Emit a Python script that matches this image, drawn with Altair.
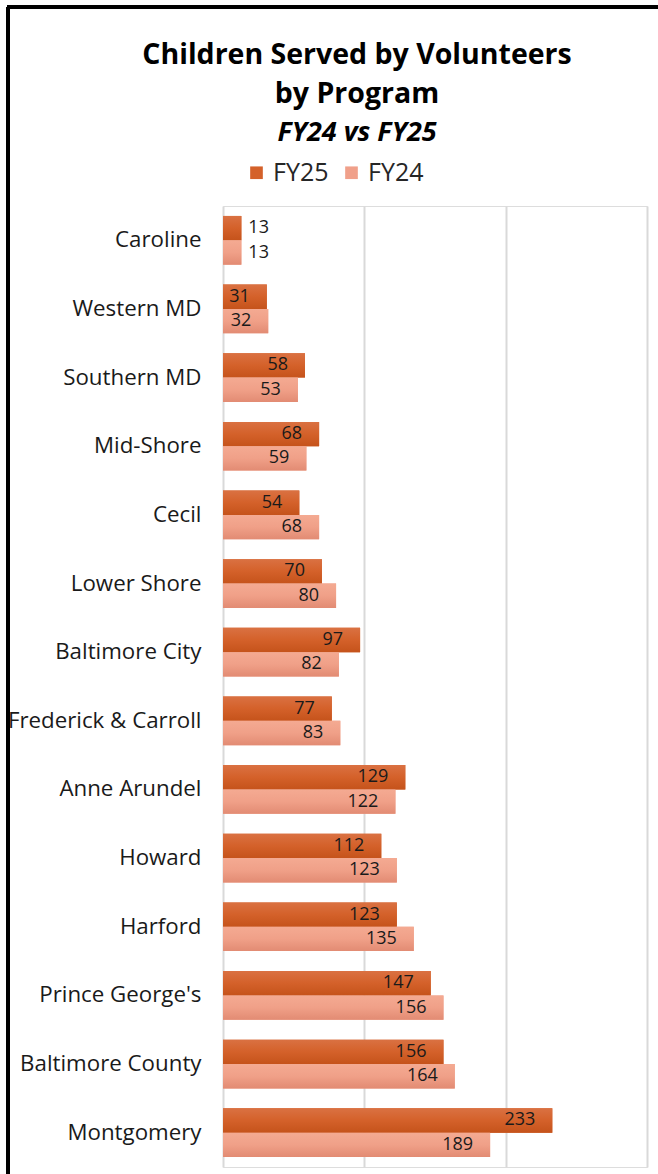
import altair as alt
import pandas as pd

programs = ["Caroline", "Western MD", "Southern MD", "Mid-Shore", "Cecil", "Lower Shore",
            "Baltimore City", "Frederick & Carroll", "Anne Arundel", "Howard", "Harford",
            "Prince George's", "Baltimore County", "Montgomery"]
fy25 = [13, 31, 58, 68, 54, 70, 97, 77, 129, 112, 123, 147, 156, 233]
fy24 = [13, 32, 53, 59, 68, 80, 82, 83, 122, 123, 135, 156, 164, 189]
series = ["FY25", "FY24"]
colors = ["#D4612A", "#F0A08A"]

rows = []
for p, a, b in zip(programs, fy25, fy24):
    rows.append({"Program": p, "Series": "FY25", "Value": a})
    rows.append({"Program": p, "Series": "FY24", "Value": b})
df = pd.DataFrame(rows)

FONT = "Open Sans"
W, H = 424, 961

y_enc = alt.Y("Program:N", sort=programs, title=None,
              scale=alt.Scale(paddingInner=0.29, paddingOuter=0.145),
              axis=alt.Axis(labelFont=FONT, labelFontSize=22.3, labelColor="#1a1a1a",
                            labelPadding=22, ticks=False, domain=False, grid=False,
                            labelLimit=260))
x_enc = alt.X("Value:Q", title=None, scale=alt.Scale(domain=[0, 300], nice=False),
              axis=alt.Axis(values=[0, 100, 200, 300], labels=False, ticks=False, domain=False,
                            grid=True, gridColor="#D9D9D9", gridWidth=2))
yoff = alt.YOffset("Series:N", sort=series, scale=alt.Scale(paddingInner=0, paddingOuter=0))
y_plain = alt.Y("Program:N", sort=programs)

base = alt.Chart(df)

bars = base.mark_bar().encode(
    y=y_enc, x=x_enc, yOffset=yoff,
    color=alt.Color("Series:N", sort=series,
                    scale=alt.Scale(domain=series, range=colors),
                    legend=alt.Legend(title=None, orient="none", direction="horizontal",
                                      legendX=21, legendY=-46, symbolType="square",
                                      symbolSize=160, symbolStrokeWidth=0,
                                      labelFont=FONT, labelFontSize=25, labelColor="#262626",
                                      columnPadding=10, labelOffset=4))
)


def grad(top, mid, bottom):
    return alt.Gradient(gradient="linear", x1=0, y1=0, x2=0, y2=1,
                        stops=[alt.GradientStop(color=top, offset=0),
                               alt.GradientStop(color=mid, offset=0.5),
                               alt.GradientStop(color=bottom, offset=1)])


g25 = base.transform_filter("datum.Series == 'FY25'").mark_bar(
    color=grad("#DA7142", "#D4612A", "#C5531B")
).encode(y=y_plain, x="Value:Q", yOffset=yoff)
g24 = base.transform_filter("datum.Series == 'FY24'").mark_bar(
    color=grad("#F4AA92", "#F0A088", "#E28B73")
).encode(y=y_plain, x="Value:Q", yOffset=yoff)

txt_in = base.transform_filter("datum.Value >= 20").mark_text(
    align="right", baseline="middle", dx=-17, font=FONT, fontSize=18, color="#1a1a1a"
).encode(y=y_plain, x="Value:Q", yOffset=yoff, text="Value:Q")

txt_out = base.transform_filter("datum.Value < 20").mark_text(
    align="left", baseline="middle", dx=7, font=FONT, fontSize=18, color="#1a1a1a"
).encode(y=y_plain, x="Value:Q", yOffset=yoff, text="Value:Q")

frame_left = base.mark_rule(color="black", strokeWidth=3).encode(
    x=alt.value(-215), y=alt.value(-199), y2=alt.value(H + 20))
frame_top = base.mark_rule(color="black", strokeWidth=3).encode(
    x=alt.value(-216), x2=alt.value(W + 20), y=alt.value(-199))

chart = alt.layer(bars, g25, g24, txt_in, txt_out, frame_left, frame_top).properties(
    width=W, height=H,
    autosize=alt.AutoSizeParams(type="none"),
    padding={"left": 223, "top": 206, "right": 11, "bottom": 7},
    title=alt.TitleParams(
        text=["Children Served by Volunteers", "by Program"],
        subtitle="FY24 vs FY25",
        anchor="middle", frame="group", dx=-78, offset=-140,
        font=FONT, fontSize=28.5, fontWeight="bold", color="black", lineHeight=39,
        subtitleFont=FONT, subtitleFontSize=27, subtitleFontStyle="italic",
        subtitleFontWeight="bold", subtitleColor="black", subtitlePadding=11,
    ),
).configure_view(stroke=None).configure(background="white")

chart.save("out.html", embed_options={"renderer": "svg", "actions": False})
